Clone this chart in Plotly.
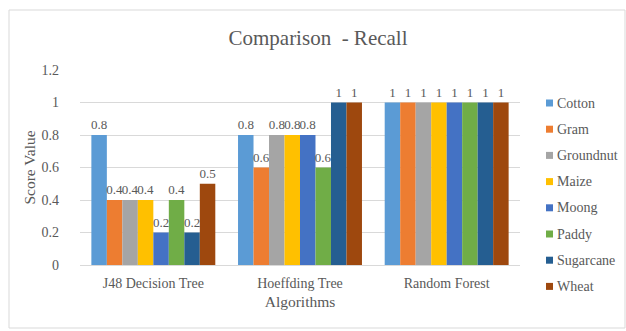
import plotly.graph_objects as go

algorithms = ["J48 Decision Tree", "Hoeffding Tree", "Random Forest"]
crops = ["Cotton", "Gram", "Groundnut", "Maize", "Moong", "Paddy", "Sugarcane", "Wheat"]
recall = {
    "Cotton":    [0.8, 0.8, 1],
    "Gram":      [0.4, 0.6, 1],
    "Groundnut": [0.4, 0.8, 1],
    "Maize":     [0.4, 0.8, 1],
    "Moong":     [0.2, 0.8, 1],
    "Paddy":     [0.4, 0.6, 1],
    "Sugarcane": [0.2, 1, 1],
    "Wheat":     [0.5, 1, 1],
}
colors = ["#5B9BD5", "#ED7D31", "#A5A5A5", "#FFC000",
          "#4472C4", "#70AD47", "#255E91", "#9E480E"]
y_ticks = [0, 0.2, 0.4, 0.6, 0.8, 1, 1.2]

FONT = "'Times New Roman', 'Liberation Serif', serif"
TXT = "#595959"

# plot-area geometry in pixels
W, H = 626, 331
L, R, T, B = 80, 520, 70, 265


def px_x(px):
    return (px - L) / (R - L)


def px_y(py):
    return (B - py) / (B - T)


fig = go.Figure()
for crop, col in zip(crops, colors):
    vals = recall[crop]
    fig.add_trace(go.Bar(
        name=crop, x=algorithms, y=vals,
        marker=dict(color=col, line=dict(width=0)),
        text=[f"{v:g}" for v in vals], textposition="outside",
        textfont=dict(family=FONT, size=13, color=TXT),
        constraintext="none", cliponaxis=False,
        showlegend=False,
    ))

# legend on the right: small colour squares with the crop names
shapes = [dict(type="rect", xref="paper", yref="paper",
               x0=px_x(9), x1=px_x(625), y0=px_y(328), y1=px_y(10),
               line=dict(color="#D9D9D9", width=1))]
annotations = []
for i, (crop, col) in enumerate(zip(crops, colors)):
    cy = 103 + i * 26.2
    shapes.append(dict(type="rect", xref="paper", yref="paper",
                       x0=px_x(546), x1=px_x(553), y0=px_y(cy + 3.5), y1=px_y(cy - 3.5),
                       fillcolor=col, line=dict(width=0)))
    annotations.append(dict(text=crop, xref="paper", yref="paper",
                            x=px_x(555), y=px_y(cy), xanchor="left", yanchor="middle",
                            showarrow=False,
                            font=dict(family=FONT, size=14, color=TXT)))

fig.update_layout(
    width=W, height=H,
    margin=dict(l=L, r=W - R, t=T, b=H - B, autoexpand=False),
    paper_bgcolor="white", plot_bgcolor="white",
    barmode="group", bargap=0.155, bargroupgap=0,
    font=dict(family=FONT, color=TXT, size=13),
    showlegend=False,
    title=dict(text="Comparison  - Recall", x=318 / W, xanchor="center",
               y=1 - 38 / H, yanchor="middle",
               font=dict(family=FONT, size=21, color=TXT)),
    xaxis=dict(title=dict(text="Algorithms", font=dict(family=FONT, size=15.5, color=TXT),
                          standoff=6),
               showline=True, linecolor="#D9D9D9", ticks="", ticklabelstandoff=5,
               tickfont=dict(family=FONT, size=14, color=TXT)),
    yaxis=dict(title=dict(text="Score Value", font=dict(family=FONT, size=15.5, color=TXT),
                          standoff=2),
               range=[0, 1.2], tickvals=y_ticks, ticktext=[f"{v:g}" for v in y_ticks],
               showgrid=True, gridcolor="#D9D9D9", zeroline=False, ticklabelstandoff=20,
               tickfont=dict(family=FONT, size=14, color=TXT)),
    shapes=shapes,
    annotations=annotations,
)

fig.write_html("out.html")
